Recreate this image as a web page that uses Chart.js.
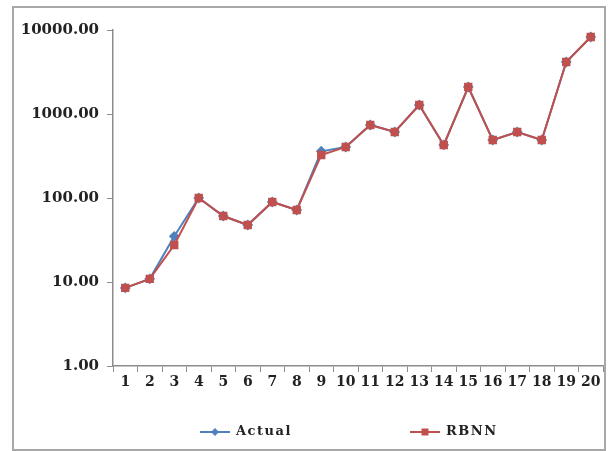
<!DOCTYPE html>
<html>
<head>
<meta charset="utf-8">
<script src="https://cdn.jsdelivr.net/npm/chart.js@4"></script>
<style>
  html, body { margin: 0; padding: 0; background: #fff; }
  #wrap { position: relative; width: 610px; height: 451px; }
  #frame { position: absolute; left: 12px; top: 6px; width: 590px; height: 441px; border: 2px solid #a8a8a8; pointer-events: none; }
</style>
</head>
<body>
<div id="wrap">
  <canvas id="chart" width="610" height="451"></canvas>
  <div id="frame"></div>
</div>
<script>
// data
const periods = ['1','2','3','4','5','6','7','8','9','10','11','12','13','14','15','16','17','18','19','20'];
const actual = [8.5, 10.9, 35, 100, 61, 47.7, 89.6, 72, 360, 405, 740, 611, 1280, 428, 2096, 490, 611, 490, 4160, 8260];
const rbnn   = [8.5, 10.9, 27.6, 100, 61, 47.7, 89.6, 72, 325, 405, 740, 611, 1280, 428, 2096, 490, 611, 490, 4160, 8260];
const yTicks = [1, 10, 100, 1000, 10000];

const blue = '#4F81BD';
const red = '#C0504D';
const axisGrey = '#8c8c8c';
const serif = '"DejaVu Serif", "Liberation Serif", serif';

// legend drawn by hand: line + marker + name, spaced like the original
const legendItems = [
    { text: 'Actual', color: blue, style: 'diamond', x: 200 },
    { text: 'RBNN', color: red, style: 'rect', x: 410 }
];

const bottomLegend = {
    id: 'bottomLegend',
    afterDraw(ch) {
        const g = ch.ctx;
        const y = 432;
        g.save();
        legendItems.forEach(item => {
            g.strokeStyle = item.color;
            g.fillStyle = item.color;
            g.lineWidth = 2;
            g.beginPath(); g.moveTo(item.x, y); g.lineTo(item.x + 30, y); g.stroke();
            const cx = item.x + 15;
            g.beginPath();
            if (item.style === 'diamond') {
                g.moveTo(cx, y - 4); g.lineTo(cx + 4, y); g.lineTo(cx, y + 4); g.lineTo(cx - 4, y);
            } else {
                g.rect(cx - 3.5, y - 3.5, 7, 7);
            }
            g.closePath(); g.fill();
            g.fillStyle = '#222';
            g.font = 'bold 13px ' + serif;
            g.letterSpacing = '1.5px';
            g.textBaseline = 'middle';
            g.textAlign = 'left';
            g.fillText(item.text, item.x + 36, y);
        });
        g.restore();
    }
};

const ctx = document.getElementById('chart').getContext('2d');
const chart = new Chart(ctx, {
    type: 'line',
    data: {
        labels: periods,
        datasets: [{
            label: 'Actual',
            data: actual,
            order: 2,
            borderColor: blue,
            backgroundColor: blue,
            borderWidth: 2,
            pointStyle: 'rectRot',
            pointRadius: 4,
            tension: 0
        }, {
            label: 'RBNN',
            data: rbnn,
            order: 1,
            borderColor: red,
            backgroundColor: red,
            borderWidth: 2,
            pointStyle: 'rect',
            pointRadius: 4.5,
            tension: 0
        }]
    },
    options: {
        responsive: false,
        animation: false,
        layout: { padding: { top: 30, right: 7, left: 0, bottom: 53 } },
        plugins: {
            tooltip: { enabled: false },
            legend: { display: false }
        },
        scales: {
            x: {
                offset: true,
                grid: { display: true, offset: true, drawOnChartArea: false, tickLength: 6, color: axisGrey },
                border: { color: axisGrey, width: 1.5 },
                ticks: { color: '#222', padding: 2, maxRotation: 0, autoSkip: false, font: { family: serif, size: 14, weight: 'bold' } },
                afterFit: (scale) => { scale.height = 32; }
            },
            y: {
                type: 'logarithmic',
                min: 1,
                max: 10000,
                afterBuildTicks: (scale) => { scale.ticks = yTicks.map(v => ({ value: v })); },
                grid: { display: true, drawOnChartArea: false, tickLength: 6, color: axisGrey },
                border: { color: axisGrey, width: 1.5 },
                ticks: {
                    color: '#222',
                    padding: 8,
                    font: { family: serif, size: 15, weight: 'bold' },
                    callback: (v) => Number(v).toFixed(2)
                },
                afterFit: (scale) => { scale.width = 113; }
            }
        }
    },
    plugins: [bottomLegend]
});
</script>
</body>
</html>
